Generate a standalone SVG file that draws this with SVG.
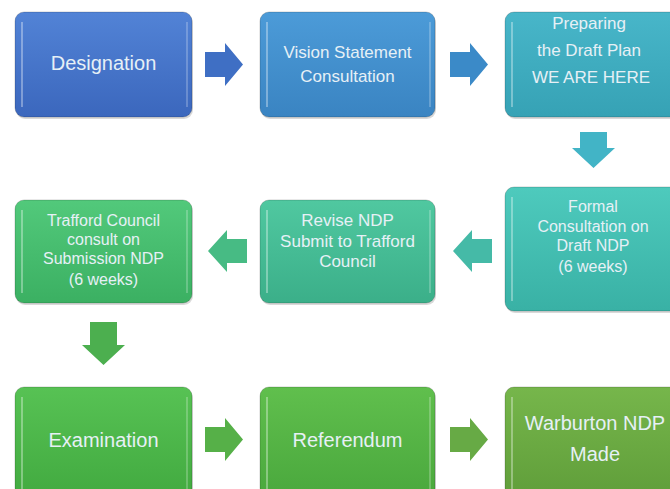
<svg xmlns="http://www.w3.org/2000/svg" width="670" height="489" viewBox="0 0 670 489">
<defs>
<linearGradient id="g1" x1="0" y1="0" x2="0" y2="1"><stop offset="0" stop-color="#5283d6"/><stop offset="1" stop-color="#3b67bd"/></linearGradient>
<linearGradient id="g2" x1="0" y1="0" x2="0" y2="1"><stop offset="0" stop-color="#4c9bd8"/><stop offset="1" stop-color="#3a84c2"/></linearGradient>
<linearGradient id="g3" x1="0" y1="0" x2="0" y2="1"><stop offset="0" stop-color="#48b6c9"/><stop offset="1" stop-color="#36a2b5"/></linearGradient>
<linearGradient id="g4" x1="0" y1="0" x2="0" y2="1"><stop offset="0" stop-color="#4ecabd"/><stop offset="1" stop-color="#39b1a5"/></linearGradient>
<linearGradient id="g5" x1="0" y1="0" x2="0" y2="1"><stop offset="0" stop-color="#50c8a0"/><stop offset="1" stop-color="#3baf89"/></linearGradient>
<linearGradient id="g6" x1="0" y1="0" x2="0" y2="1"><stop offset="0" stop-color="#52c97b"/><stop offset="1" stop-color="#3bb062"/></linearGradient>
<linearGradient id="g7" x1="0" y1="0" x2="0" y2="1"><stop offset="0" stop-color="#57c254"/><stop offset="1" stop-color="#42aa40"/></linearGradient>
<linearGradient id="g8" x1="0" y1="0" x2="0" y2="1"><stop offset="0" stop-color="#60bf4d"/><stop offset="1" stop-color="#4aa83d"/></linearGradient>
<linearGradient id="g9" x1="0" y1="0" x2="0" y2="1"><stop offset="0" stop-color="#76b64b"/><stop offset="1" stop-color="#609e3a"/></linearGradient>
</defs>
<style>
.box{stroke:rgba(0,0,0,0.18);stroke-width:1}
.shadow{fill:rgba(0,0,0,0.15)}
.hl{stroke:rgba(255,255,255,0.45);stroke-width:1.5;fill:none}
.hr{stroke:rgba(255,255,255,0.3);stroke-width:1.5;fill:none}
.t{font-family:"Liberation Sans",Arial,sans-serif;fill:#e6f0f6;text-anchor:middle}
.big{font-size:20px}
.sm{font-size:17px}
.xs{font-size:16px}
</style>
<g id="connectors">
<path d="M205,52H225V43L243,64.5L225,86V77H205Z" fill="#3f6fc4"/>
<path d="M450,52H470V43L488,64.5L470,86V77H450Z" fill="#3b8ac8"/>
<path d="M580,132H607V148H615L593.5,168L572,148H580Z" fill="#42b4c6"/>
<path d="M492,239H472V230L453,251L472,272V263H492Z" fill="#45baa7"/>
<path d="M247,239H227V230L208,251L227,272V263H247Z" fill="#47bb84"/>
<path d="M90,322H117V345H125L103.5,365L82,345H90Z" fill="#4caf4f"/>
<path d="M205,427H225V418L243,439.5L225,461V452H205Z" fill="#56b048"/>
<path d="M450,427H470V418L488,439.5L470,461V452H450Z" fill="#67aa45"/>
</g>
<g id="designation">
<rect class="shadow" x="16" y="14" width="177" height="105" rx="9"/>
<rect class="box" x="15" y="12" width="177" height="105" rx="9" fill="url(#g1)"/>
<path class="hl" d="M22,22V107"/><path class="hr" d="M187,22V107"/>
<text class="t big" x="103.5" y="70">Designation</text>
</g>
<g id="vision">
<rect class="shadow" x="261" y="14" width="175" height="105" rx="9"/>
<rect class="box" x="260" y="12" width="175" height="105" rx="9" fill="url(#g2)"/>
<path class="hl" d="M267,22V107"/><path class="hr" d="M430,22V107"/>
<text class="t sm" x="347.5" y="58">Vision Statement</text>
<text class="t sm" x="347.5" y="82">Consultation</text>
</g>
<g id="preparing">
<rect class="shadow" x="506" y="14" width="175" height="105" rx="9"/>
<rect class="box" x="505" y="12" width="175" height="105" rx="9" fill="url(#g3)"/>
<path class="hl" d="M512,22V107"/>
<text class="t sm" x="589" y="29">Preparing</text>
<text class="t sm" x="589" y="56">the Draft Plan</text>
<text class="t sm" x="591" y="83">WE ARE HERE</text>
</g>
<g id="formal">
<rect class="shadow" x="506" y="189" width="175" height="124" rx="9"/>
<rect class="box" x="505" y="187" width="175" height="124" rx="9" fill="url(#g4)"/>
<path class="hl" d="M512,197V301"/>
<text class="t xs" x="593" y="212">Formal</text>
<text class="t xs" x="593" y="232">Consultation on</text>
<text class="t xs" x="593" y="251">Draft NDP</text>
<text class="t xs" x="593" y="272">(6 weeks)</text>
</g>
<g id="revise">
<rect class="shadow" x="261" y="202" width="175" height="103" rx="9"/>
<rect class="box" x="260" y="200" width="175" height="103" rx="9" fill="url(#g5)"/>
<path class="hl" d="M267,210V293"/><path class="hr" d="M430,210V293"/>
<text class="t sm" x="347.5" y="226">Revise NDP</text>
<text class="t sm" x="347.5" y="247">Submit to Trafford</text>
<text class="t sm" x="347.5" y="267">Council</text>
</g>
<g id="trafford">
<rect class="shadow" x="16" y="202" width="177" height="103" rx="9"/>
<rect class="box" x="15" y="200" width="177" height="103" rx="9" fill="url(#g6)"/>
<path class="hl" d="M22,210V293"/><path class="hr" d="M187,210V293"/>
<text class="t xs" x="103.5" y="226">Trafford Council</text>
<text class="t xs" x="103.5" y="245">consult on</text>
<text class="t xs" x="103.5" y="264">Submission NDP</text>
<text class="t xs" x="103.5" y="285">(6 weeks)</text>
</g>
<g id="examination">
<rect class="shadow" x="16" y="389" width="177" height="110" rx="9"/>
<rect class="box" x="15" y="387" width="177" height="110" rx="9" fill="url(#g7)"/>
<path class="hl" d="M22,397V489"/><path class="hr" d="M187,397V489"/>
<text class="t big" x="103.5" y="447">Examination</text>
</g>
<g id="referendum">
<rect class="shadow" x="261" y="389" width="175" height="110" rx="9"/>
<rect class="box" x="260" y="387" width="175" height="110" rx="9" fill="url(#g8)"/>
<path class="hl" d="M267,397V489"/><path class="hr" d="M430,397V489"/>
<text class="t big" x="347.5" y="447">Referendum</text>
</g>
<g id="warburton">
<rect class="shadow" x="506" y="389" width="175" height="110" rx="9"/>
<rect class="box" x="505" y="387" width="175" height="110" rx="9" fill="url(#g9)"/>
<path class="hl" d="M512,397V489"/>
<text class="t big" x="595" y="430">Warburton NDP</text>
<text class="t big" x="595" y="461">Made</text>
</g>
</svg>
